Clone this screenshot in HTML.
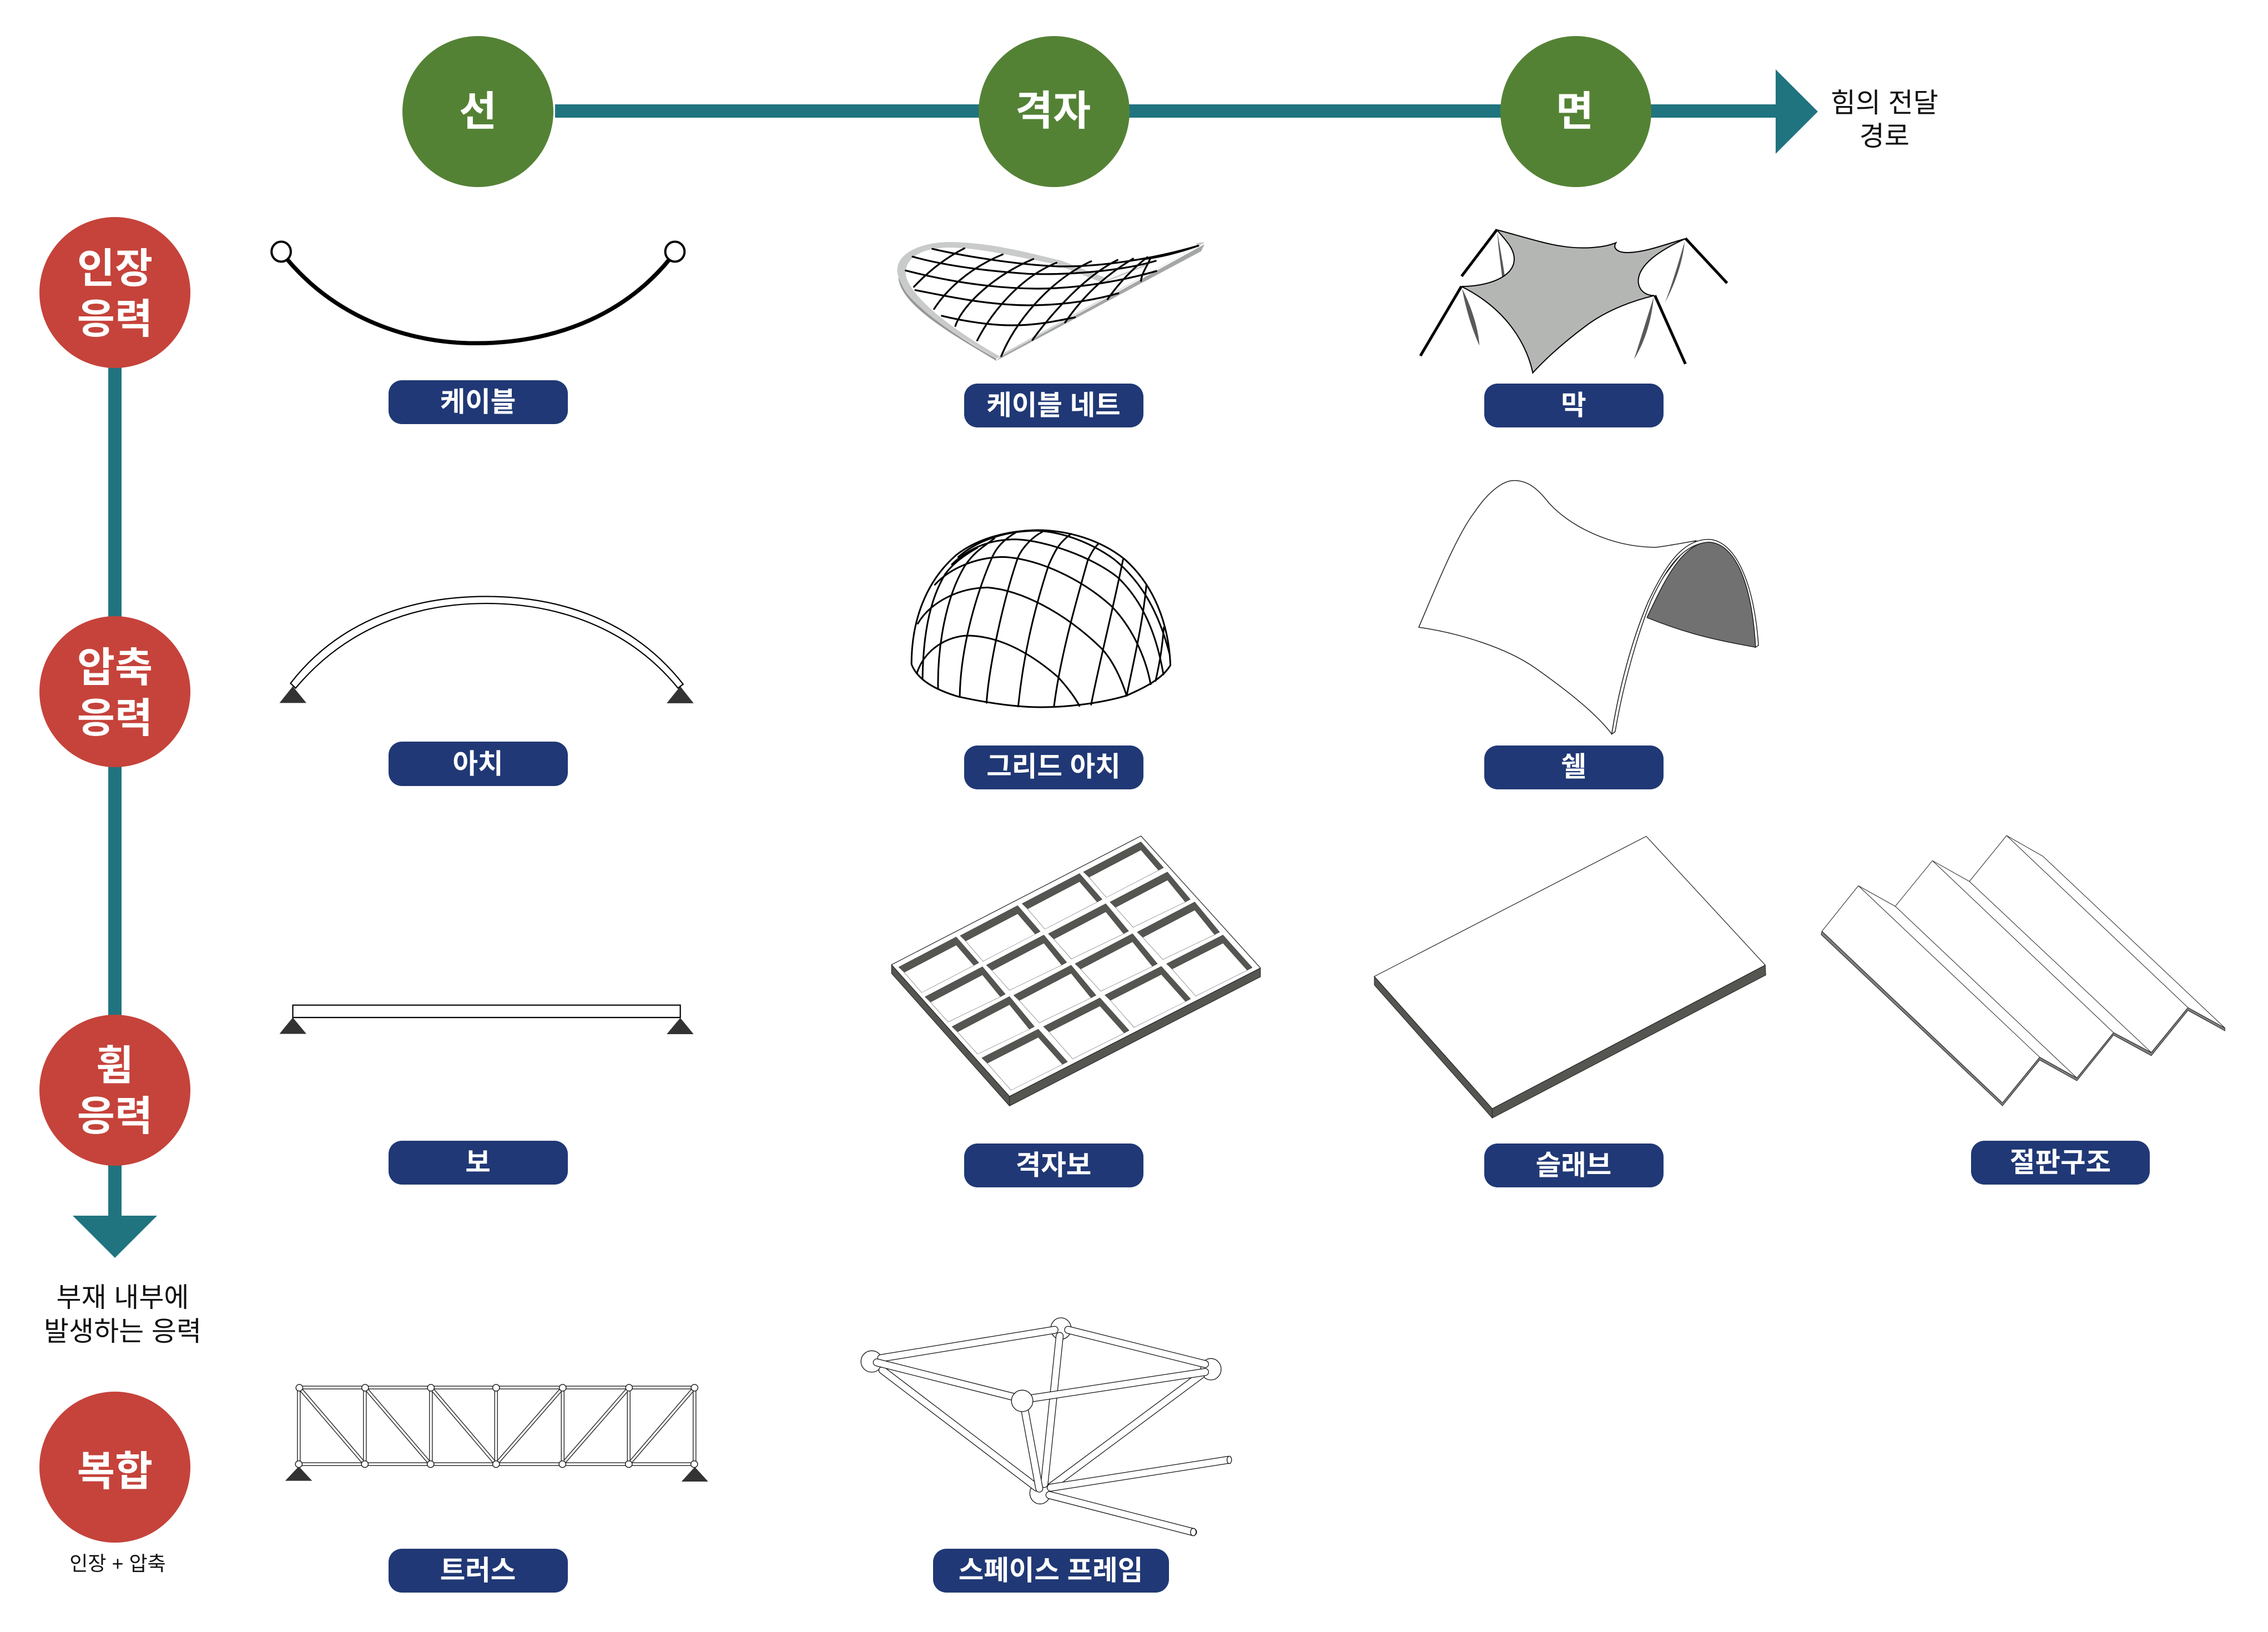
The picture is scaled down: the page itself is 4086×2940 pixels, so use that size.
<!DOCTYPE html>
<html lang="ko"><head><meta charset="utf-8"><title>구조 분류 다이어그램</title>
<style>
html,body{margin:0;padding:0;background:#fff;width:4086px;height:2940px;overflow:hidden}
svg{display:block}
text{font-family:"Liberation Sans","Noto Sans CJK KR",sans-serif;text-anchor:middle}
.c{font-size:74px;font-weight:700;fill:#fff}
.p{font-size:49.5px;font-weight:700;fill:#fff}
.t{font-size:49px;fill:#111}
.d *{vector-effect:non-scaling-stroke}
.o{stroke:#111;stroke-width:14;fill:none;stroke-linecap:round}
.w{stroke:#fff;stroke-width:11.5;fill:none;stroke-linecap:round}
</style></head><body>
<svg xmlns="http://www.w3.org/2000/svg" width="4086" height="2940" viewBox="0 0 4086 2940">
<rect width="4086" height="2940" fill="#fff"/>
<defs>
<g id="c1"><path d="M-226,157L0,0L89,135L69,149L0,43L-204,185Z" fill="#555551" stroke="#222" stroke-width="1"/><path d="M-204,185L-136,290L69,149" fill="none" stroke="#333" stroke-width="1.2"/></g>
<g id="c2"><path d="M-226,157L0,0L90,143L70,157L0,43L-204,185Z" fill="#555551" stroke="#222" stroke-width="1"/><path d="M-204,185L-135,288L70,157" fill="none" stroke="#333" stroke-width="1.2"/></g>
<g id="c3"><path d="M-226,157L0,0L98,157L78,171L0,43L-204,185Z" fill="#555551" stroke="#222" stroke-width="1"/><path d="M-204,185L-125,300L78,171" fill="none" stroke="#333" stroke-width="1.2"/></g>
<g id="c4"><path d="M-222,150L0,0L115,170L95,184L0,43L-200,178Z" fill="#555551" stroke="#222" stroke-width="1"/><path d="M-200,178L-107,318L95,184" fill="none" stroke="#333" stroke-width="1.2"/></g>
</defs>

<!-- axes -->
<rect x="1000" y="188" width="2200" height="24" fill="#20747F"/>
<polygon points="3199,125 3199,277 3275,201" fill="#20747F"/>
<rect x="195" y="650" width="24" height="1545" fill="#20747F"/>
<polygon points="131,2190 283,2190 207,2266" fill="#20747F"/>

<circle cx="861" cy="201" r="136" fill="#548235"/>
<circle cx="1899" cy="201" r="136" fill="#548235"/>
<circle cx="2839" cy="201" r="136" fill="#548235"/>
<text class="c" x="861" y="226">선</text>
<text class="c" x="1897" y="225">격자</text>
<text class="c" x="2837" y="226">면</text>

<circle cx="207" cy="527" r="136" fill="#C5433B"/>
<circle cx="207" cy="1246" r="136" fill="#C5433B"/>
<circle cx="207" cy="1964" r="136" fill="#C5433B"/>
<circle cx="207" cy="2643" r="136" fill="#C5433B"/>
<text class="c" x="207" y="509">인장</text><text class="c" x="207" y="600">응력</text>
<text class="c" x="207" y="1228">압축</text><text class="c" x="207" y="1319">응력</text>
<text class="c" x="207" y="1945">휨</text><text class="c" x="207" y="2036">응력</text>
<text class="c" x="207" y="2676">복합</text>

<text class="t" x="3395" y="202">힘의 전달</text>
<text class="t" x="3395" y="262">경로</text>
<text class="t" x="221" y="2354">부재 내부에</text>
<text class="t" x="221" y="2415">발생하는 응력</text>
<text x="212" y="2829" style="font-size:36px;fill:#111">인장 + 압축</text>

<!-- pills -->
<g fill="#203875">
<rect x="700" y="685" width="323" height="79" rx="24"/>
<rect x="1737" y="691" width="323" height="79" rx="24"/>
<rect x="2674" y="691" width="323" height="79" rx="24"/>
<rect x="700" y="1336" width="323" height="80" rx="24"/>
<rect x="1737" y="1343" width="323" height="79" rx="24"/>
<rect x="2674" y="1343" width="323" height="79" rx="24"/>
<rect x="700" y="2055" width="323" height="79" rx="24"/>
<rect x="1737" y="2060" width="323" height="79" rx="24"/>
<rect x="2674" y="2060" width="323" height="79" rx="24"/>
<rect x="3551" y="2055" width="322" height="79" rx="24"/>
<rect x="700" y="2790" width="323" height="79" rx="24"/>
<rect x="1681" y="2790" width="425" height="79" rx="24"/>
</g>
<text class="p" x="861" y="741">케이블</text>
<text class="p" x="1898" y="747">케이블 네트</text>
<text class="p" x="2835" y="747">막</text>
<text class="p" x="861" y="1393">아치</text>
<text class="p" x="1898" y="1398">그리드 아치</text>
<text class="p" x="2835" y="1398">쉘</text>
<text class="p" x="861" y="2111">보</text>
<text class="p" x="1898" y="2116">격자보</text>
<text class="p" x="2835" y="2116">슬래브</text>
<text class="p" x="3712" y="2111">절판구조</text>
<text class="p" x="861" y="2846">트러스</text>
<text class="p" x="1893" y="2846">스페이스 프레임</text>

<!-- cable -->
<g class="d" transform="translate(480,400) scale(.5107,.3333)">
<path d="M75,205C250,520 500,655 740,655C1000,655 1250,520 1420,205" fill="none" stroke="#000" stroke-width="7.5"/>
<ellipse cx="52" cy="160" rx="34" ry="54" fill="#fff" stroke="#000" stroke-width="4"/>
<ellipse cx="1441" cy="160" rx="34" ry="54" fill="#fff" stroke="#000" stroke-width="4"/>
</g>

<!-- cable net -->
<g class="d" transform="translate(1500,360) scale(.5107,.3333)">
<path d="M577,870C450,750 240,580 232,420L240,440C260,560 450,750 577,858Z" fill="#999"/>
<path d="M577,858C450,740 240,560 228,385C225,290 310,228 415,228C560,230 700,290 810,330L960,420L948,445L780,345C650,310 520,258 410,258C320,258 255,310 258,400C265,500 385,670 592,848Z" fill="#C9CBCB"/>
<path d="M577,870L1300,278L1312,240L595,845Z" fill="#A5A7A7"/>
<path d="M590,848L1290,250L1312,232Q1300,225 1280,238Q1290,245 1280,258L590,840Z" fill="#C9CBCB"/>
<path d="M948,445L1110,345L1110,355L960,445Z" fill="#C9CBCB"/>
<g fill="none" stroke="#000" stroke-width="3.2" stroke-linecap="round">
<path d="M352,265C450,300 640,350 800,360C950,362 1130,320 1290,248"/>
<path d="M282,307C370,345 500,380 690,400C850,408 1030,380 1140,330"/>
<path d="M258,382C380,430 540,478 720,480C880,480 1040,430 1142,385"/>
<path d="M292,488C400,520 540,568 690,570C830,570 940,535 1008,505"/>
<path d="M385,627C460,655 560,680 640,678C720,678 790,655 855,635"/>
<path d="M287,470C330,400 390,320 465,262"/>
<path d="M358,590C400,490 480,370 600,295"/>
<path d="M433,682C460,560 580,400 708,320"/>
<path d="M510,760C560,610 660,420 790,340"/>
<path d="M595,845C640,670 760,440 912,332"/>
<path d="M705,757C760,640 880,420 1005,325"/>
<path d="M820,663C880,530 950,420 1060,318"/>
<path d="M970,537C1010,450 1060,370 1110,310"/>
<path d="M1088,438C1090,400 1105,370 1120,320"/>
<path d="M1100,320C1160,310 1230,280 1290,248"/>
</g>
</g>

<!-- membrane -->
<g class="d" transform="translate(2500,360) scale(.4470,.3333)">
<path d="M442,170C445,260 455,340 462,425L472,415C465,340 452,260 442,170Z" fill="#595959"/>
<path d="M440,162C520,190 640,240 700,250C780,268 870,260 920,232C905,265 930,285 965,285C1040,285 1130,235 1200,210C1100,270 1010,350 1010,440C1012,490 1040,518 1075,517C960,555 870,610 800,680C720,760 650,840 585,935C560,780 480,590 297,468C400,468 510,420 510,320C510,260 470,210 440,162Z" fill="#B4B6B4" stroke="#000" stroke-width="2"/>
<path d="M300,480C315,590 340,700 370,788C365,690 335,570 300,480Z" fill="#595959"/>
<path d="M1197,225C1170,350 1145,460 1118,555C1160,450 1190,330 1197,225Z" fill="#595959"/>
<path d="M1072,525C1045,640 1020,750 993,862C1040,760 1065,640 1072,525Z" fill="#595959"/>
<g fill="none" stroke="#000" stroke-width="5">
<path d="M298,413L440,162"/><path d="M132,843L297,468"/><path d="M1368,450L1200,208"/><path d="M1077,517L1200,887"/>
</g>
</g>

<!-- dome -->
<g class="d" transform="translate(1600,950) scale(.3830,.3333)" fill="none" stroke="#000" stroke-width="3" stroke-linecap="round">
<path d="M110,740C110,500 180,290 320,150C420,60 560,18 700,15C850,15 1000,70 1110,170C1250,310 1320,520 1328,745C1290,820 1200,870 1120,910C1000,950 850,972 720,972C600,972 470,950 330,915C230,880 140,830 110,740Z"/>
<path d="M162,815C165,600 190,400 270,250C310,190 360,150 420,110"/>
<path d="M235,870C232,650 270,380 360,210C400,140 440,110 500,60"/>
<path d="M337,915C340,680 400,400 490,160C510,110 540,70 600,28"/>
<path d="M463,948C475,750 540,400 610,165C630,110 680,50 725,25"/>
<path d="M612,968C640,650 700,400 755,205C790,110 810,80 860,35"/>
<path d="M780,970C810,700 880,420 940,175C960,130 970,110 990,88"/>
<path d="M955,958C990,750 1060,430 1105,175"/>
<path d="M1122,910C1160,700 1200,500 1215,310"/>
<path d="M1258,830C1280,720 1290,640 1297,540"/>
<path d="M135,790C170,660 280,585 380,585C520,590 660,670 800,810C840,860 880,920 900,965"/>
<path d="M140,520C200,400 340,325 470,325C620,340 820,450 1000,650C1060,720 1100,830 1122,910"/>
<path d="M220,310C300,210 430,160 545,160C700,170 900,270 1050,425C1140,530 1210,690 1235,848"/>
<path d="M300,200C380,110 480,65 600,65C740,70 960,160 1080,270C1190,390 1260,560 1295,795"/>
<path d="M330,160C400,90 520,20 700,18C820,25 950,80 1060,170C1180,280 1270,440 1325,690"/>
</g>

<!-- shell -->
<g class="d" transform="translate(2540,850) scale(.4340,.3333)" stroke="#222" stroke-width="1.5">
<path d="M985,785C1040,640 1120,385 1240,380C1350,385 1420,600 1435,948C1300,915 1180,890 985,788Z" fill="#717171"/>
<path d="M37,840C100,650 190,350 270,215C330,100 390,47 432,47C490,47 530,90 575,165C660,290 830,405 1015,408C1040,408 1130,385 1190,372C1130,420 1040,580 990,700C930,880 870,1150 838,1417C770,1300 640,1170 520,1060C400,950 200,870 37,840Z" fill="#fff"/>
<path d="M838,1417C870,1150 930,880 990,700C1060,510 1130,365 1240,365C1350,370 1430,600 1447,938L1435,948C1420,600 1350,385 1240,380C1130,390 1060,530 1000,700C945,880 885,1150 852,1405Z" fill="#fff"/>
</g>

<!-- grid beam -->
<g class="d" transform="translate(1580,1480) scale(.4590,.3462)">
<path d="M57,745L57,790L520,1480L1505,808L1505,762L520,1430Z" fill="#555551" stroke="#222" stroke-width="1"/>
<path d="M1036,75L1505,762L520,1430L57,745Z" fill="#fff" stroke="#222" stroke-width="1.2"/>
<path d="M520,1430L520,1480" stroke="#222" stroke-width="1"/>
<use href="#c1" x="1036" y="105"/><use href="#c1" x="795" y="270"/><use href="#c1" x="552" y="437"/><use href="#c1" x="311" y="600"/>
<use href="#c2" x="1140" y="262"/><use href="#c2" x="898" y="427"/><use href="#c2" x="655" y="590"/><use href="#c2" x="414" y="755"/>
<use href="#c3" x="1247" y="418"/><use href="#c3" x="1003" y="583"/><use href="#c3" x="762" y="747"/><use href="#c3" x="520" y="910"/>
<use href="#c4" x="1358" y="590"/><use href="#c4" x="1116" y="753"/><use href="#c4" x="875" y="917"/><use href="#c4" x="633" y="1080"/>
</g>

<!-- slab -->
<g class="d" transform="translate(2460,1490) scale(.4850,.3462)" stroke="#222" stroke-width="1">
<path d="M33,777L33,822L471,1514L1487,770L1485,718L471,1465Z" fill="#555551"/>
<path d="M1043,48L1485,718L471,1465L33,777Z" fill="#fff" stroke-width="1.2"/>
<path d="M471,1465L471,1514"/>
</g>

<!-- folded plate -->
<g class="d" transform="translate(3270,1490) scale(.4965,.3397)" stroke="#222" stroke-width="1" fill="none">
<path d="M25,552L680,1462L815,1220L950,1330L1083,1090L1220,1195L1353,957L1487,1065L1487,1080L1353,972L1220,1212L1083,1103L950,1345L815,1235L680,1478L22,570Z" fill="#808080"/>
<path d="M25,552L157,311L291,420L426,178L560,288L695,45L827,155L1487,1065L1353,957L1220,1195L1083,1090L950,1330L815,1220L680,1462Z" fill="#fff"/>
<path d="M157,311L815,1220M291,420L950,1330M426,178L1083,1090M560,288L1220,1195M695,45L1353,957"/>
</g>

<!-- arch + beam -->
<g class="d" transform="translate(480,1050) scale(.5107,.5449)">
<path d="M93,342L46,397L141,397ZM1460,342L1412,398L1507,398ZM93,1437L46,1491L141,1491ZM1460,1438L1412,1492L1507,1492Z" fill="#333"/>
<path d="M85,332C260,120 520,45 775,45C1030,45 1290,120 1470,335L1452,348C1280,150 1030,68 775,68C520,68 280,150 103,348Z" fill="#fff" stroke="#000" stroke-width="2.2"/>
<rect x="93" y="1396" width="1367" height="41" fill="#fff" stroke="#000" stroke-width="2.2"/>
</g>

<!-- truss -->
<g class="d" transform="translate(500,2460) scale(.5107,.3333)">
<path d="M75,545L27,623L122,623ZM1472,548L1425,627L1519,627Z" fill="#333"/>
<g fill="none" stroke="#333" stroke-width="6.5">
<path d="M77,119H1471"/><path d="M75,533H1470"/>
<path d="M75,120V533M308,120V533M541,120V533M771,120V533M1006,120V533M1239,120V533M1471,120V533"/>
<path d="M77,120L308,533M309,120L540,533M541,120L771,533M1006,120L771,533M1240,120L1005,533M1471,120L1239,533"/>
</g>
<g fill="none" stroke="#fff" stroke-width="3.5">
<path d="M77,119H1471"/><path d="M75,533H1470"/>
<path d="M75,120V533M308,120V533M541,120V533M771,120V533M1006,120V533M1239,120V533M1471,120V533"/>
<path d="M77,120L308,533M309,120L540,533M541,120L771,533M1006,120L771,533M1240,120L1005,533M1471,120L1239,533"/>
</g>
<g fill="#fff" stroke="#222" stroke-width="1.5">
<ellipse cx="77" cy="120" rx="12" ry="18"/><ellipse cx="309" cy="120" rx="12" ry="18"/><ellipse cx="541" cy="120" rx="12" ry="18"/><ellipse cx="771" cy="120" rx="12" ry="18"/><ellipse cx="1006" cy="120" rx="12" ry="18"/><ellipse cx="1240" cy="120" rx="12" ry="18"/><ellipse cx="1471" cy="120" rx="12" ry="18"/>
<ellipse cx="75" cy="533" rx="12" ry="18"/><ellipse cx="308" cy="533" rx="12" ry="18"/><ellipse cx="540" cy="533" rx="12" ry="18"/><ellipse cx="771" cy="533" rx="12" ry="18"/><ellipse cx="1005" cy="533" rx="12" ry="18"/><ellipse cx="1239" cy="533" rx="12" ry="18"/><ellipse cx="1470" cy="533" rx="12" ry="18"/>
</g>
</g>

<!-- space frame -->
<g class="d" transform="translate(1530,2360) scale(.4595,.3333)">
<g fill="#fff" stroke="#111" stroke-width="1.3">
<ellipse cx="88" cy="278" rx="42" ry="58"/><ellipse cx="830" cy="100" rx="40" ry="58"/><ellipse cx="1418" cy="320" rx="40" ry="58"/><ellipse cx="748" cy="990" rx="40" ry="58"/>
</g>
<path class="o" d="M125,260L805,107"/><path class="w" d="M125,260L805,107"/>
<path class="o" d="M858,107L1395,292"/><path class="w" d="M858,107L1395,292"/>
<path class="o" d="M130,325L735,960"/><path class="w" d="M130,325L735,960"/>
<path class="o" d="M825,140L765,940"/><path class="w" d="M825,140L765,940"/>
<path class="o" d="M1380,350L790,955"/><path class="w" d="M1380,350L790,955"/>
<path class="o" d="M790,960L1485,810"/><path class="w" d="M790,960L1485,810"/>
<path class="o" d="M108,283L660,475"/><path class="w" d="M108,283L660,475"/>
<path class="o" d="M710,478L1395,335"/><path class="w" d="M710,478L1395,335"/>
<path class="o" d="M688,540L745,965"/><path class="w" d="M688,540L745,965"/>
<path class="o" d="M785,1000L1348,1200"/><path class="w" d="M785,1000L1348,1200"/>
<ellipse cx="1490" cy="810" rx="9" ry="20" fill="#fff" stroke="#111" stroke-width="1.3"/>
<ellipse cx="1349" cy="1200" rx="11" ry="20" fill="#fff" stroke="#111" stroke-width="1.3"/>
<ellipse cx="678" cy="491" rx="42" ry="58" fill="#fff" stroke="#111" stroke-width="1.3"/>
</g>
</svg>
</body></html>
